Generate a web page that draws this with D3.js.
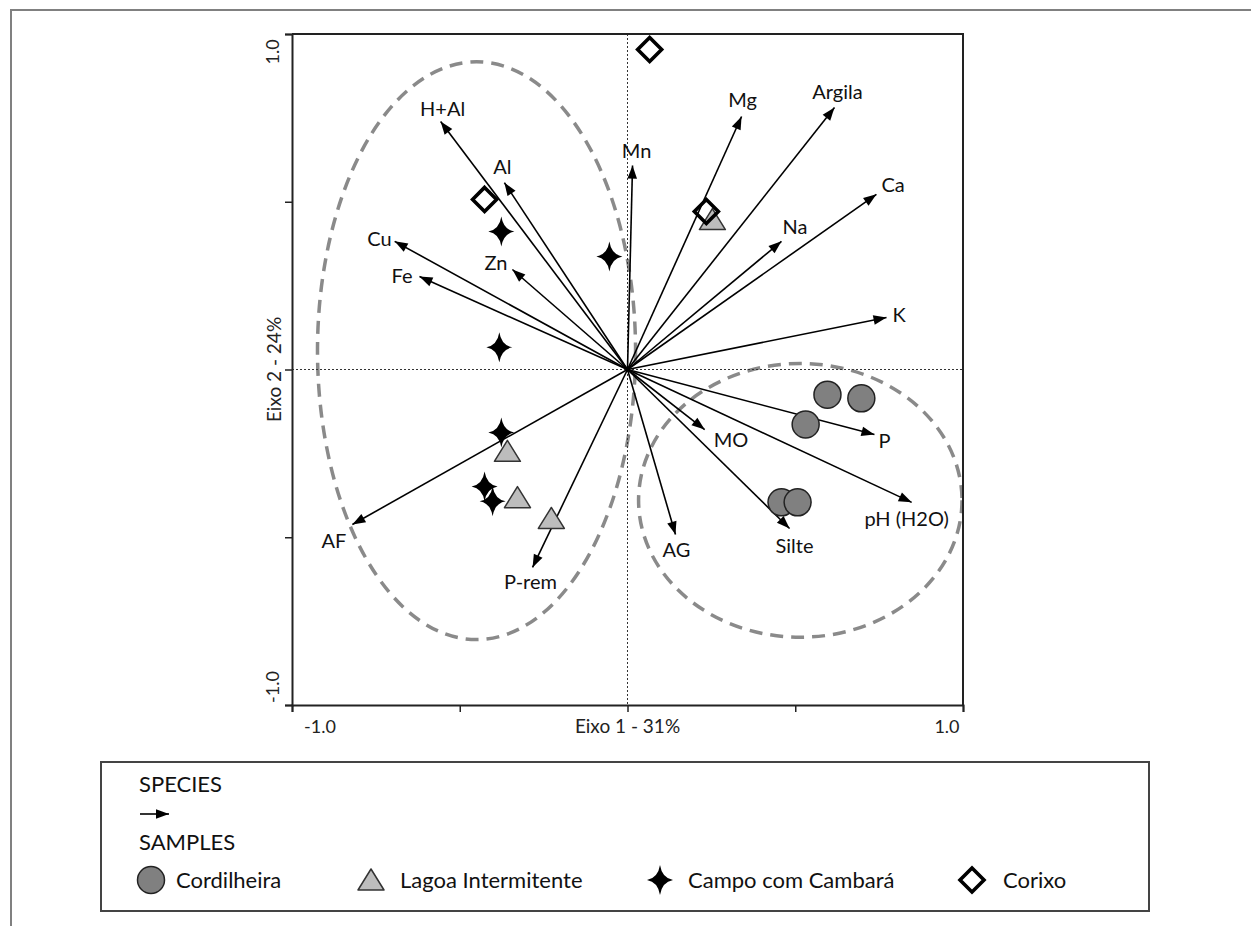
<!DOCTYPE html>
<html>
<head>
<meta charset="utf-8">
<script src="https://cdn.jsdelivr.net/npm/d3@7"></script>
<style>
  html, body { margin: 0; padding: 0; background: #fff; }
  svg { display: block; font-family: Lato, "Open Sans", sans-serif; }
</style>
</head>
<body>
<svg id="chart"></svg>
<script>
// environmental variables (arrows), axis units
const varNames = ['H+Al', 'Al', 'Mn', 'Mg', 'Argila', 'Ca', 'Na', 'K', 'Cu', 'Fe', 'Zn', 'AF', 'P-rem', 'AG', 'MO', 'Silte', 'pH (H2O)', 'P'];
const varX = [-0.557, -0.367, 0.015, 0.340, 0.617, 0.742, 0.459, 0.772, -0.694, -0.620, -0.343, -0.820, -0.283, 0.143, 0.230, 0.483, 0.847, 0.736];
const varY = [0.739, 0.557, 0.608, 0.754, 0.781, 0.522, 0.382, 0.155, 0.382, 0.277, 0.298, -0.462, -0.590, -0.492, -0.179, -0.474, -0.396, -0.194];

// samples per vegetation type
const cordX = [0.596, 0.697, 0.531, 0.459, 0.507];
const cordY = [-0.075, -0.086, -0.164, -0.396, -0.396];
const lagoaX = [0.253, -0.358, -0.328, -0.227];
const lagoaY = [0.447, -0.244, -0.382, -0.444];
const campoX = [-0.382, -0.376, -0.426, -0.402, -0.376, -0.054];
const campoY = [0.066, -0.188, -0.349, -0.393, 0.411, 0.337];
const corixoX = [0.066, -0.426, 0.235];
const corixoY = [0.954, 0.507, 0.471];

// dashed group outlines (centre / radii in axis units)
const groupCx = [-0.45, 0.515];
const groupCy = [0.056, -0.39];
const groupRx = [0.474, 0.482];
const groupRy = [0.861, 0.408];

const xTicks = [-1, -0.5, 0, 0.5, 1];
const yTicks = [-1, -0.5, 0, 0.5, 1];
const xTitle = 'Eixo 1 - 31%';
const yTitle = 'Eixo 2 - 24%';
const legendNames = ['Cordilheira', 'Lagoa Intermitente', 'Campo com Cambará', 'Corixo'];

// label placement relative to arrow tip: [dx, dy, anchor]
const labelPlace = {
  'H+Al': [2, -6, 'middle'], 'Al': [-2, -9, 'middle'], 'Mn': [4, -8, 'middle'],
  'Mg': [1, -10, 'middle'], 'Argila': [3, -8, 'middle'], 'Ca': [5, -2, 'start'],
  'Na': [1, -7, 'start'], 'K': [6, 5, 'start'], 'Cu': [-3, 5, 'end'],
  'Fe': [-7, 6, 'end'], 'Zn': [-5, 0, 'end'], 'AF': [-6, 23, 'end'],
  'P-rem': [-2, 22, 'middle'], 'AG': [1, 22, 'middle'], 'MO': [9, 17, 'start'],
  'Silte': [5, 24, 'middle'], 'pH (H2O)': [-5, 24, 'middle'], 'P': [4, 13, 'start']
};

const width = 1251, height = 926;
const svg = d3.select('#chart').attr('width', width).attr('height', height);

// outer page frame
svg.append('path')
  .attr('d', `M11,926 L11,10 L1251,10`)
  .attr('fill', 'none').attr('stroke', '#808080').attr('stroke-width', 2);

const x = d3.scaleLinear().domain([-1, 1]).range([292, 963]);
const y = d3.scaleLinear().domain([-1, 1]).range([705, 34]);

// group ellipses
svg.append('g').selectAll('ellipse')
  .data(groupCx.map((c, i) => ({ cx: c, cy: groupCy[i], rx: groupRx[i], ry: groupRy[i] })))
  .join('ellipse')
  .attr('cx', d => x(d.cx))
  .attr('cy', d => y(d.cy))
  .attr('rx', d => x(d.rx) - x(0))
  .attr('ry', d => y(0) - y(d.ry))
  .attr('fill', 'none')
  .attr('stroke', '#8a8a8a')
  .attr('stroke-width', 3.5)
  .attr('stroke-dasharray', '13 8');

// dotted zero lines
svg.append('line')
  .attr('x1', x(0)).attr('x2', x(0)).attr('y1', y(1)).attr('y2', y(-1))
  .attr('stroke', '#333').attr('stroke-width', 1).attr('stroke-dasharray', '2 2');
svg.append('line')
  .attr('x1', x(-1)).attr('x2', x(1)).attr('y1', y(0)).attr('y2', y(0))
  .attr('stroke', '#333').attr('stroke-width', 1).attr('stroke-dasharray', '2 2');

// frame top/right
svg.append('path')
  .attr('d', `M${x(-1)},${y(1)} L${x(1)},${y(1)} L${x(1)},${y(-1)}`)
  .attr('fill', 'none').attr('stroke', '#222').attr('stroke-width', 2);

// axes
const xAxis = svg.append('g')
  .attr('transform', `translate(0,${y(-1)})`)
  .call(d3.axisBottom(x).tickValues(xTicks).tickSize(7).tickFormat(''));
const yAxis = svg.append('g')
  .attr('transform', `translate(${x(-1)},0)`)
  .call(d3.axisLeft(y).tickValues(yTicks).tickSize(7).tickFormat(''));
[xAxis, yAxis].forEach(a => {
  a.select('.domain').attr('stroke', '#222').attr('stroke-width', 2);
  a.selectAll('.tick line').attr('stroke', '#222').attr('stroke-width', 1.5);
});

// tick labels at the ends only, shifted inward
const tickFont = 18;
const titleFont = 19;
svg.append('text').attr('x', x(-1) + 28).attr('y', y(-1) + 28)
  .attr('text-anchor', 'middle').attr('font-size', tickFont).attr('fill', '#222').text('-1.0');
svg.append('text').attr('x', x(1) - 16).attr('y', y(-1) + 28)
  .attr('text-anchor', 'middle').attr('font-size', tickFont).attr('fill', '#222').text('1.0');
svg.append('text').attr('x', x(0)).attr('y', y(-1) + 28)
  .attr('text-anchor', 'middle').attr('font-size', titleFont).attr('fill', '#222').text(xTitle);
svg.append('text').attr('transform', `translate(${x(-1) - 13},${y(1) + 18}) rotate(-90)`)
  .attr('text-anchor', 'middle').attr('font-size', tickFont).attr('fill', '#222').text('1.0');
svg.append('text').attr('transform', `translate(${x(-1) - 13},${y(-1) - 18}) rotate(-90)`)
  .attr('text-anchor', 'middle').attr('font-size', tickFont).attr('fill', '#222').text('-1.0');
svg.append('text').attr('transform', `translate(${x(-1) - 11},${y(0)}) rotate(-90)`)
  .attr('text-anchor', 'middle').attr('font-size', titleFont).attr('fill', '#222').text(yTitle);

// arrow marker
const defs = svg.append('defs');
defs.append('marker')
  .attr('id', 'head')
  .attr('markerUnits', 'userSpaceOnUse')
  .attr('viewBox', '-14 -6 16 12')
  .attr('refX', 0).attr('refY', 0)
  .attr('markerWidth', 16).attr('markerHeight', 12)
  .attr('orient', 'auto')
  .append('path')
  .attr('d', 'M-13,-4.8L0,0L-13,4.8Z')
  .attr('fill', '#000');

const vars = varNames.map((n, i) => ({ name: n, x: varX[i], y: varY[i] }));

svg.append('g').selectAll('line')
  .data(vars)
  .join('line')
  .attr('x1', x(0)).attr('y1', y(0))
  .attr('x2', d => x(d.x)).attr('y2', d => y(d.y))
  .attr('stroke', '#000').attr('stroke-width', 1.6)
  .attr('marker-end', 'url(#head)');

svg.append('g').selectAll('text')
  .data(vars)
  .join('text')
  .attr('x', d => x(d.x) + labelPlace[d.name][0])
  .attr('y', d => y(d.y) + labelPlace[d.name][1])
  .attr('text-anchor', d => labelPlace[d.name][2])
  .attr('font-size', 20)
  .attr('fill', '#111')
  .text(d => d.name);

// sample symbols
const starPath = 'M0,-15Q2,-2 13,0Q2,2 0,15Q-2,2 -13,0Q-2,-2 0,-15Z';
const triPath = 'M0,-11L13,10L-13,10Z';
const diaPath = 'M0,-12L12,0L0,12L-12,0Z';

function drawCircle(g, cx, cy) {
  g.append('circle').attr('cx', cx).attr('cy', cy).attr('r', 13.5)
    .attr('fill', '#808080').attr('stroke', '#222').attr('stroke-width', 1.5);
}
function drawTri(g, cx, cy) {
  g.append('path').attr('d', triPath).attr('transform', `translate(${cx},${cy})`)
    .attr('fill', '#bdbdbd').attr('stroke', '#333').attr('stroke-width', 1.5).attr('stroke-linejoin', 'round');
}
function drawStar(g, cx, cy) {
  g.append('path').attr('d', starPath).attr('transform', `translate(${cx},${cy})`)
    .attr('fill', '#000');
}
function drawDia(g, cx, cy) {
  g.append('path').attr('d', diaPath).attr('transform', `translate(${cx},${cy})`)
    .attr('fill', 'none').attr('stroke', '#000').attr('stroke-width', 3.6).attr('stroke-linejoin', 'miter');
}

const pts = svg.append('g');
lagoaX.forEach((v, i) => drawTri(pts, x(v), y(lagoaY[i])));
cordX.forEach((v, i) => drawCircle(pts, x(v), y(cordY[i])));
campoX.forEach((v, i) => drawStar(pts, x(v), y(campoY[i])));
corixoX.forEach((v, i) => drawDia(pts, x(v), y(corixoY[i])));

// legend
const legendFont = 22;
const lg = svg.append('g');
lg.append('rect').attr('x', 101).attr('y', 762).attr('width', 1048).attr('height', 149)
  .attr('fill', '#fff').attr('stroke', '#444').attr('stroke-width', 2);
lg.append('text').attr('x', 139).attr('y', 792).attr('font-size', legendFont).attr('fill', '#111').text('SPECIES');
lg.append('line').attr('x1', 140).attr('x2', 169).attr('y1', 814).attr('y2', 814)
  .attr('stroke', '#000').attr('stroke-width', 1.6).attr('marker-end', 'url(#head)');
lg.append('text').attr('x', 139).attr('y', 850).attr('font-size', legendFont).attr('fill', '#111').text('SAMPLES');

const legendSym = [151, 371, 660, 972];
const legendTxt = [176, 400, 688, 1003];
const drawers = [drawCircle, drawTri, drawStar, drawDia];
legendNames.forEach((n, i) => {
  drawers[i](lg, legendSym[i], 880);
  lg.append('text').attr('x', legendTxt[i]).attr('y', 888).attr('font-size', legendFont).attr('fill', '#111').text(n);
});
</script>
</body>
</html>
